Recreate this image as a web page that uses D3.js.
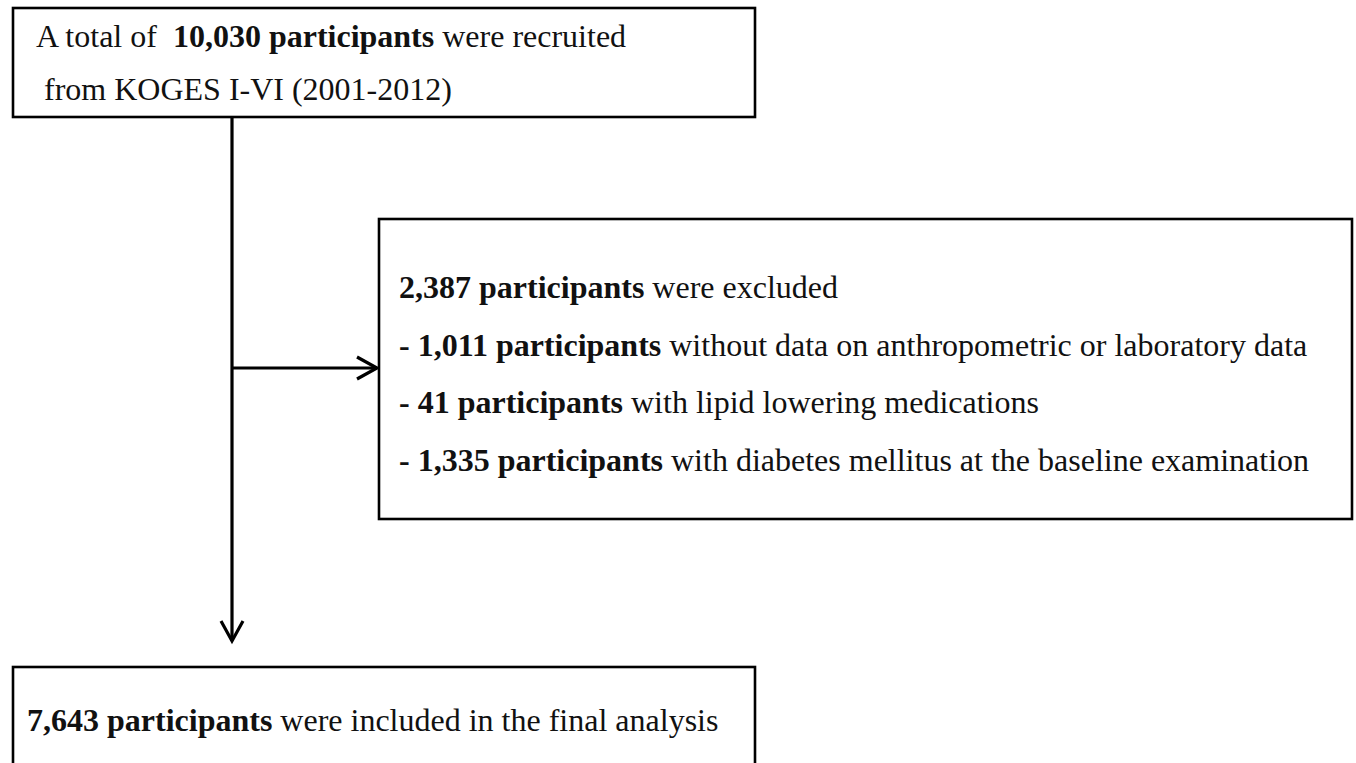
<!DOCTYPE html>
<html>
<head>
<meta charset="utf-8">
<title>Flow chart</title>
<script src="https://d3js.org/d3.v7.min.js"></script>
<style>
body { margin: 0; background: #fff; }
svg { display: block; }
.box { fill: #fff; stroke: #000; stroke-width: 2.6; }
.link { fill: none; stroke: #000; stroke-width: 3.2; }
text { font-family: "Liberation Serif", "Times New Roman", serif; font-size: 32px; fill: #111; white-space: pre; }
.b { font-weight: bold; }
</style>
</head>
<body>
<script>
// text of each box, one array per box, each line = list of [bold?, text]
var topLines = [
  [[0, "A total of  "], [1, "10,030 participants"], [0, " were recruited"]],
  [[0, " from KOGES I-VI (2001-2012)"]]
];
var excludedLines = [
  [[1, "2,387 participants"], [0, " were excluded"]],
  [[1, "- 1,011 participants"], [0, " without data on anthropometric or laboratory data"]],
  [[1, "- 41 participants"], [0, " with lipid lowering medications"]],
  [[1, "- 1,335 participants"], [0, " with diabetes mellitus at the baseline examination"]]
];
var finalLines = [
  [[1, "7,643 participants"], [0, " were included in the final analysis"]]
];

var W = 1356, H = 763;
var svg = d3.select("body").append("svg")
    .attr("width", W)
    .attr("height", H);

// layout of the boxes
var boxes = [
  {x: 13, y: 8, w: 742, h: 109, tx: 36, ty: 47, dy: 53, lines: topLines},
  {x: 379, y: 219, w: 973, h: 300, tx: 399, ty: 298, dy: 57.7, lines: excludedLines},
  {x: 13, y: 667, w: 742, h: 120, tx: 27, ty: 731, dy: 0, lines: finalLines}
];

// main vertical link + side arrow
var mainX = 232;
svg.append("line").attr("class", "link")
    .attr("x1", mainX).attr("y1", 117)
    .attr("x2", mainX).attr("y2", 641);
svg.append("path").attr("class", "link")
    .attr("d", "M" + (mainX - 11) + ",621 L" + mainX + ",641 L" + (mainX + 11) + ",621");

var armY = 368;
svg.append("line").attr("class", "link")
    .attr("x1", mainX).attr("y1", armY)
    .attr("x2", 377).attr("y2", armY);
svg.append("path").attr("class", "link")
    .attr("d", "M357," + (armY - 11) + " L377," + armY + " L357," + (armY + 11));

var g = svg.selectAll("g.node")
    .data(boxes)
  .enter().append("g")
    .attr("class", "node");

g.append("rect").attr("class", "box")
    .attr("x", function(d) { return d.x; })
    .attr("y", function(d) { return d.y; })
    .attr("width", function(d) { return d.w; })
    .attr("height", function(d) { return d.h; });

g.each(function(d) {
  var t = d3.select(this).selectAll("text")
      .data(d.lines)
    .enter().append("text")
      .attr("x", d.tx)
      .attr("y", function(l, i) { return d.ty + i * d.dy; });
  t.selectAll("tspan")
      .data(function(l) { return l; })
    .enter().append("tspan")
      .attr("class", function(s) { return s[0] ? "b" : null; })
      .text(function(s) { return s[1]; });
});
</script>
</body>
</html>
